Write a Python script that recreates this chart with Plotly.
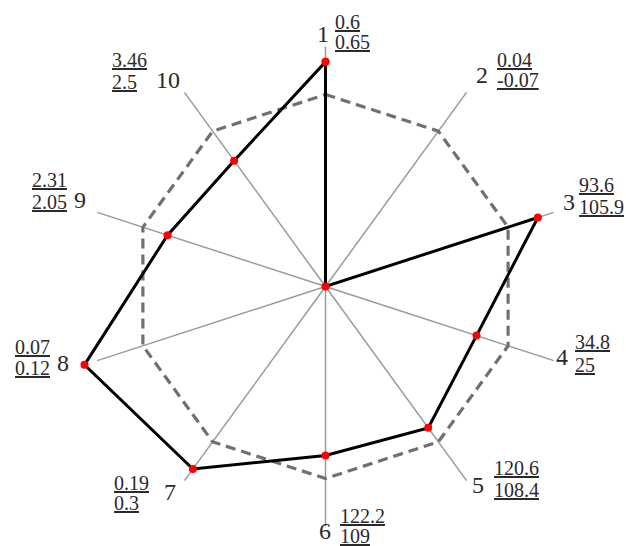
import plotly.graph_objects as go

# ---- data ----
axes_labels = ["1", "2", "3", "4", "5", "6", "7", "8", "9", "10"]
reference_level = [1.0] * 10
series_ratio = [1.17, 0.0, 1.163, 0.827, 0.91, 0.88, 1.175, 1.32, 0.865, 0.81]
top_values = ["0.6", "0.04", "93.6", "34.8", "120.6", "122.2", "0.19", "0.07", "2.31", "3.46"]
bottom_values = ["0.65", "-0.07", "105.9", "25", "108.4", "109", "0.3", "0.12", "2.05", "2.5"]

# ---- style / layout constants ----
W, H = 626, 546
SPOKE_LEN = 1.25
R_MAX = 1.35
PX_PER_UNIT = 192.0
num_pos = [(323, 34), (482, 75), (569, 202), (562, 357), (478, 485),
           (325, 531), (170, 492), (63, 363), (80, 200), (168, 80)]
frac_left = [333, 495, 577, 573, 492, 338, 112, 13, 30, 110]
frac_top_y = [22, 60, 185, 342, 468, 516, 483, 347, 180, 60]
frac_bot_y = [42, 80, 207, 365, 490, 536, 503, 368, 202, 82]

cx, cy = 325.5, 286.5
rad = R_MAX * PX_PER_UNIT


def px(x):
    return x / W


def py(y):
    return 1 - y / H


theta_closed = axes_labels + [axes_labels[0]]

# spokes (axis lines) built from the category list
spoke_r, spoke_t = [], []
for lab in axes_labels:
    spoke_r += [0, SPOKE_LEN, None]
    spoke_t += [lab, lab, None]

fig = go.Figure()
fig.add_trace(go.Scatterpolar(
    r=spoke_r, theta=spoke_t, mode="lines",
    line=dict(color="#9a9a9a", width=1.5),
    hoverinfo="skip", connectgaps=False, cliponaxis=False,
))
fig.add_trace(go.Scatterpolar(
    r=reference_level + [reference_level[0]],
    theta=theta_closed,
    mode="lines",
    line=dict(color="#707070", width=3.2, dash="10px,6px"),
    hoverinfo="skip",
    cliponaxis=False,
))
fig.add_trace(go.Scatterpolar(
    r=series_ratio + [series_ratio[0]],
    theta=theta_closed,
    mode="lines+markers",
    line=dict(color="black", width=3),
    marker=dict(color="red", size=8),
    cliponaxis=False,
))

annotations = []
textcol = "#2a2a2a"
for i, lab in enumerate(axes_labels):
    x, y = num_pos[i]
    annotations.append(dict(x=px(x), y=py(y), xref="paper", yref="paper",
                            text=lab, showarrow=False, xanchor="center", yanchor="middle",
                            font=dict(family="Liberation Serif", size=24, color=textcol)))
    annotations.append(dict(x=px(frac_left[i]), y=py(frac_top_y[i]), xref="paper", yref="paper",
                            text="<u>" + top_values[i] + "</u>", showarrow=False,
                            xanchor="left", yanchor="middle",
                            font=dict(family="Liberation Serif", size=20, color=textcol)))
    annotations.append(dict(x=px(frac_left[i]), y=py(frac_bot_y[i]), xref="paper", yref="paper",
                            text="<u>" + bottom_values[i] + "</u>", showarrow=False,
                            xanchor="left", yanchor="middle",
                            font=dict(family="Liberation Serif", size=20, color=textcol)))

fig.update_layout(
    width=W, height=H,
    margin=dict(l=0, r=0, t=0, b=0),
    paper_bgcolor="white",
    plot_bgcolor="white",
    showlegend=False,
    annotations=annotations,
    polar=dict(
        domain=dict(x=[px(cx - rad), px(cx + rad)], y=[py(cy + rad), py(cy - rad)]),
        bgcolor="rgba(0,0,0,0)",
        radialaxis=dict(range=[0, R_MAX], showgrid=False, showline=False,
                        showticklabels=False, ticks=""),
        angularaxis=dict(direction="clockwise", rotation=90, showline=False,
                         showticklabels=False, ticks="", showgrid=False),
    ),
)

fig.write_html("out.html", config={"displayModeBar": False},
               post_script="document.body.style.margin='0';")
